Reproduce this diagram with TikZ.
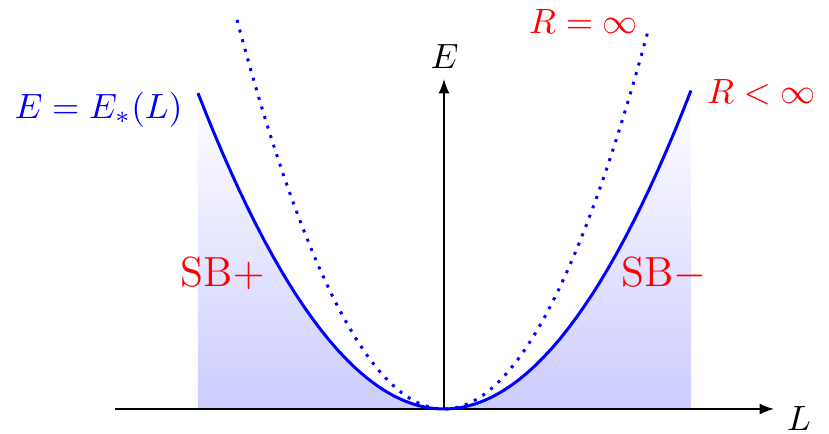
\documentclass[tikz,border=0pt]{standalone}
\usetikzlibrary{arrows.meta}
\begin{document}
\begin{tikzpicture}[x=0.285pt,y=-0.285pt,
  axisline/.style={line width=0.4pt,-{Latex[length=4.1pt,width=3.1pt]}},
  solidcurve/.style={blue,line width=0.85pt},
  dotcurve/.style={blue,line width=0.85pt,dotted},
  shadefill/.style={top color=white,bottom color=blue!20,draw=none},
  lbl/.style={anchor=base,inner sep=0pt},
  redlbl/.style={lbl,red},
  bluelbl/.style={lbl,blue}]
\useasboundingbox (0,0) rectangle (829,434);
\coordinate (O) at (444,409);
\coordinate (xl) at (115,409);
\coordinate (xr) at (774,409);
\coordinate (yt) at (444,79);
\coordinate (Lb) at (198,409);
\coordinate (Lt) at (198,93);
\coordinate (Rb) at (691,409);
\coordinate (Rt) at (691,93);
% shaded regions
\path[shadefill] (Lb) -- (Lt) -- plot[domain=-246:0,samples=41] ({444+\x},{409-52.2*(\x/100)*(\x/100)}) -- cycle;
\path[shadefill] (Rb) -- (Rt) -- plot[domain=247:0,samples=41] ({444+\x},{409-52.2*(\x/100)*(\x/100)}) -- cycle;
% axes
\draw[axisline] (xl) -- (xr);
\draw[axisline] (O) -- (yt);
% curves
\draw[solidcurve] plot[domain=-246:247,samples=61] ({444+\x},{409-52.2*(\x/100)*(\x/100)});
\draw[dotcurve] plot[domain=-207:204,samples=61] ({444+\x},{409-90.8*(\x/100)*(\x/100)});
% labels
\node[lbl] (Elab) at (444.5,68) {$E$};
\node[lbl] (Llab) at (799,431) {$L$};
\node[bluelbl] (Estar) at (98.5,118) {$E=E_*(L)$};
\node[redlbl] (Rinf) at (583.5,33) {$R=\infty$};
\node[redlbl] (Rfin) at (761.5,103) {$R<\infty$};
\node[redlbl] (SBp) at (222.5,286) {\large SB$+$};
\node[redlbl] (SBm) at (664,286) {\large SB$-$};
\end{tikzpicture}
\end{document}
